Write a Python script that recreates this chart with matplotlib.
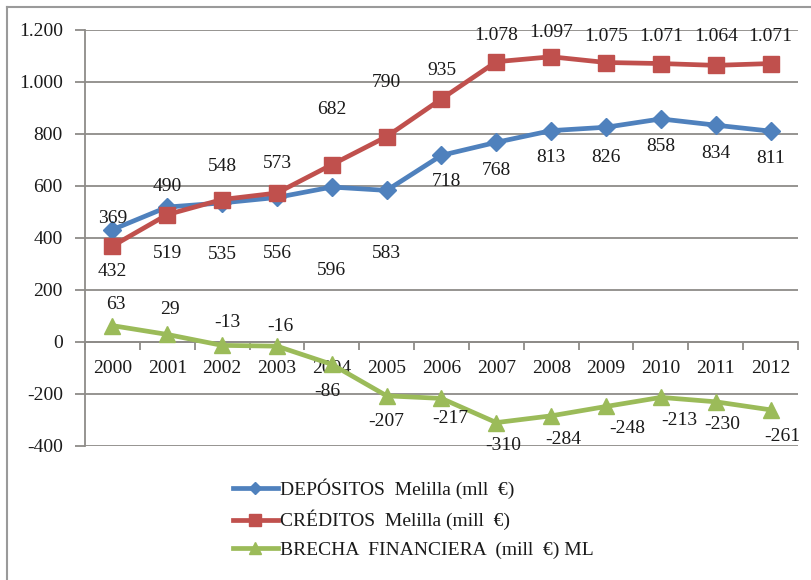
import matplotlib
matplotlib.use("Agg")
import matplotlib.pyplot as plt
from matplotlib.lines import Line2D
from matplotlib.ticker import FuncFormatter, MultipleLocator

# Series (millions of euros), Melilla
years = ["2000", "2001", "2002", "2003", "2004", "2005", "2006",
         "2007", "2008", "2009", "2010", "2011", "2012"]
depositos = [432, 519, 535, 556, 596, 583, 718, 768, 813, 826, 858, 834, 811]
creditos = [369, 490, 548, 573, 682, 790, 935, 1078, 1097, 1075, 1071, 1064, 1071]
brecha = [63, 29, -13, -16, -86, -207, -217, -310, -284, -248, -213, -230, -261]

legend_labels = ["DEPÓSITOS  Melilla (mll  €)",
                 "CRÉDITOS  Melilla (mill  €)",
                 "BRECHA  FINANCIERA  (mill  €) ML"]

# Label placement (pixel offsets from each point)
dep_off = [(0, -42), (0, -46), (0, -52), (0, -56), (0, -83), (0, -63), (5, -26),
           (0, -28), (0, -27), (0, -30), (0, -28), (0, -28), (0, -27)]
cre_off = [(0, 28), (0, 28), (0, 33), (0, 30), (0, 55), (0, 54), (0, 28),
           (0, 26), (0, 24), (0, 26), (0, 27), (0, 29), (0, 27)]
bre_off = [(3, 21), (3, 25), (5, 23), (3, 20), (-4, -27), (0, -26), (9, -20),
           (7, -23), (12, -24), (21, -22), (18, -23), (7, -23), (12, -27)]

BLUE = "#4F81BD"
RED = "#C0504D"
GREEN = "#9BBB59"
GRID = "#8E8B88"
TXT = "#1a1a1a"

plt.rcParams["font.family"] = ["Liberation Serif", "DejaVu Serif"]
FS = 14

W, H = 812, 580
fig = plt.figure(figsize=(W / 100, H / 100), dpi=100)
fig.patch.set_facecolor("white")

# outer chart border (left and top edges)
fig.add_artist(Line2D([7 / W, 7 / W], [0, 1 - 7 / H], transform=fig.transFigure,
                      color="#9a9a9a", lw=1.5))
fig.add_artist(Line2D([7 / W, 1], [1 - 7 / H, 1 - 7 / H], transform=fig.transFigure,
                      color="#9a9a9a", lw=1.5))

left, right, top, bottom = 85, 798, 30, 446
ax = fig.add_axes([left / W, 1 - bottom / H, (right - left) / W, (bottom - top) / H])

x = list(range(len(years)))
ax.set_xlim(-0.5, len(years) - 0.5)
ax.set_ylim(-400, 1200)

ax.yaxis.set_major_locator(MultipleLocator(200))
ax.yaxis.set_major_formatter(FuncFormatter(lambda v, p: f"{int(v):,}".replace(",", ".")))
ax.grid(axis="y", color=GRID, lw=1.3, zorder=0)
ax.set_axisbelow(True)

for s in ["top", "right"]:
    ax.spines[s].set_visible(False)
ax.spines["left"].set_color(GRID)
ax.spines["left"].set_linewidth(1.3)
ax.spines["bottom"].set_position(("data", 0))
ax.spines["bottom"].set_color(GRID)
ax.spines["bottom"].set_linewidth(1.3)

ax.tick_params(axis="y", length=7, width=1.3, color=GRID, pad=9,
               labelsize=FS, labelcolor=TXT)
ax.set_xticks(x)
ax.set_xticklabels(years)
ax.set_xticks([i - 0.5 for i in range(len(years) + 1)], minor=True)
ax.tick_params(axis="x", which="major", length=0, pad=13, labelsize=FS, labelcolor=TXT)
ax.tick_params(axis="x", which="minor", length=6, width=1.3, color=GRID, direction="out")

ax.plot(x, depositos, color=BLUE, lw=3.4, marker="D", ms=9, zorder=3, clip_on=False)
ax.plot(x, creditos, color=RED, lw=3.4, marker="s", ms=11, zorder=4, clip_on=False)
ax.plot(x, brecha, color=GREEN, lw=3.4, marker="^", ms=11, zorder=3, clip_on=False)


def fmt(v):
    return f"{v:,}".replace(",", ".")


for vals, offs in ((depositos, dep_off), (creditos, cre_off), (brecha, bre_off)):
    for xi, v, (dx, dy) in zip(x, vals, offs):
        ax.annotate(fmt(v), (xi, v), xytext=(dx, dy), textcoords="offset pixels",
                    ha="center", va="center", fontsize=FS, color=TXT, zorder=6,
                    annotation_clip=False)

handles = [
    Line2D([], [], color=BLUE, lw=3.4, marker="D", ms=6),
    Line2D([], [], color=RED, lw=3.4, marker="s", ms=8),
    Line2D([], [], color=GREEN, lw=3.4, marker="^", ms=8),
]
fig.legend(handles, legend_labels, loc="upper left",
           bbox_to_anchor=(233 / W, 1 - 478 / H), frameon=False, fontsize=FS,
           handlelength=2.3, handletextpad=0.1, labelspacing=0.58,
           borderpad=0, borderaxespad=0, labelcolor=TXT)

fig.savefig("out.png", dpi=100, facecolor="white")
